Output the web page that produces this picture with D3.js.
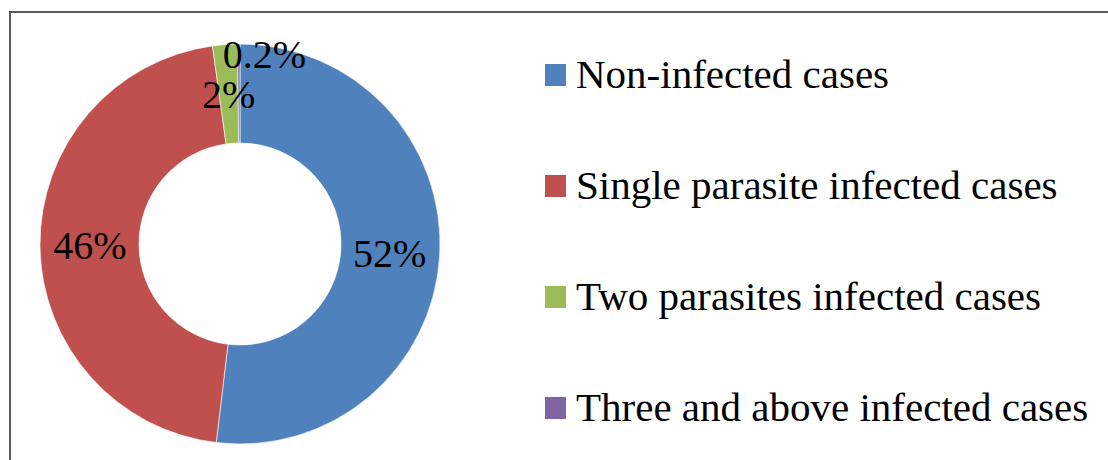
<!DOCTYPE html>
<meta charset="utf-8">
<style>
  body { margin: 0; background: #fff; }
  svg { display: block; }
  text { font-family: "Liberation Serif", "Times New Roman", serif; fill: #000; }
</style>
<body>
<svg width="1108" height="460"></svg>
</body>
<script src="https://d3js.org/d3.v7.min.js"></script>
<script>

var categories = ["Non-infected cases", "Single parasite infected cases", "Two parasites infected cases", "Three and above infected cases"];
var values = [52, 46, 2, 0.2];
var labels = ["52%", "46%", "2%", "0.2%"];
var colors = ["#4F81BD", "#C0504D", "#9BBB59", "#8064A2"];

var svg = d3.select("svg"),
    width = +svg.attr("width"),
    height = +svg.attr("height");

// chart frame (right and bottom edges run off the picture)
svg.append("rect")
    .attr("x", 10).attr("y", 12)
    .attr("width", 1200).attr("height", 1000)
    .attr("fill", "none")
    .attr("stroke", "#5a5a5a")
    .attr("stroke-width", 2);

var cx = 240, cy = 244, outer = 200, inner = 101;

var data = categories.map((c, i) => ({name: c, value: values[i], label: labels[i], color: colors[i]}));

var pie = d3.pie().value(d => d.value).sort(null);
var arc = d3.arc().innerRadius(inner).outerRadius(outer);
var midArc = d3.arc().innerRadius(150).outerRadius(150);
var rimArc = d3.arc().innerRadius(190).outerRadius(190);

var g = svg.append("g").attr("transform", "translate(" + cx + "," + cy + ")");
var arcs = pie(data);

g.selectAll("path")
    .data(arcs)
    .join("path")
    .attr("d", arc)
    .attr("fill", d => d.data.color)
    .attr("stroke", "#fff")
    .attr("stroke-width", 0.6);

// data labels
g.selectAll("text.lbl")
    .data(arcs)
    .join("text")
    .attr("class", "lbl")
    .attr("font-size", 40)
    .attr("text-anchor", (d, i) => i === 3 ? "start" : "middle")
    .attr("dy", "0.35em")
    .attr("x", (d, i) => i === 3 ? rimArc.centroid(d)[0] - 16 : midArc.centroid(d)[0])
    .attr("y", (d, i) => i === 3 ? rimArc.centroid(d)[1] : midArc.centroid(d)[1])
    .text(d => d.data.label);

// legend
var ly = d3.scalePoint().domain(categories).range([75, 408]);

var legend = svg.append("g").selectAll("g")
    .data(data)
    .join("g")
    .attr("transform", d => "translate(545," + ly(d.name) + ")");

legend.append("rect")
    .attr("x", 0).attr("y", -11)
    .attr("width", 21).attr("height", 22)
    .attr("fill", d => d.color);

legend.append("text")
    .attr("x", 31)
    .attr("y", 13)
    .attr("font-size", 41)
    .text(d => d.name);

</script>
